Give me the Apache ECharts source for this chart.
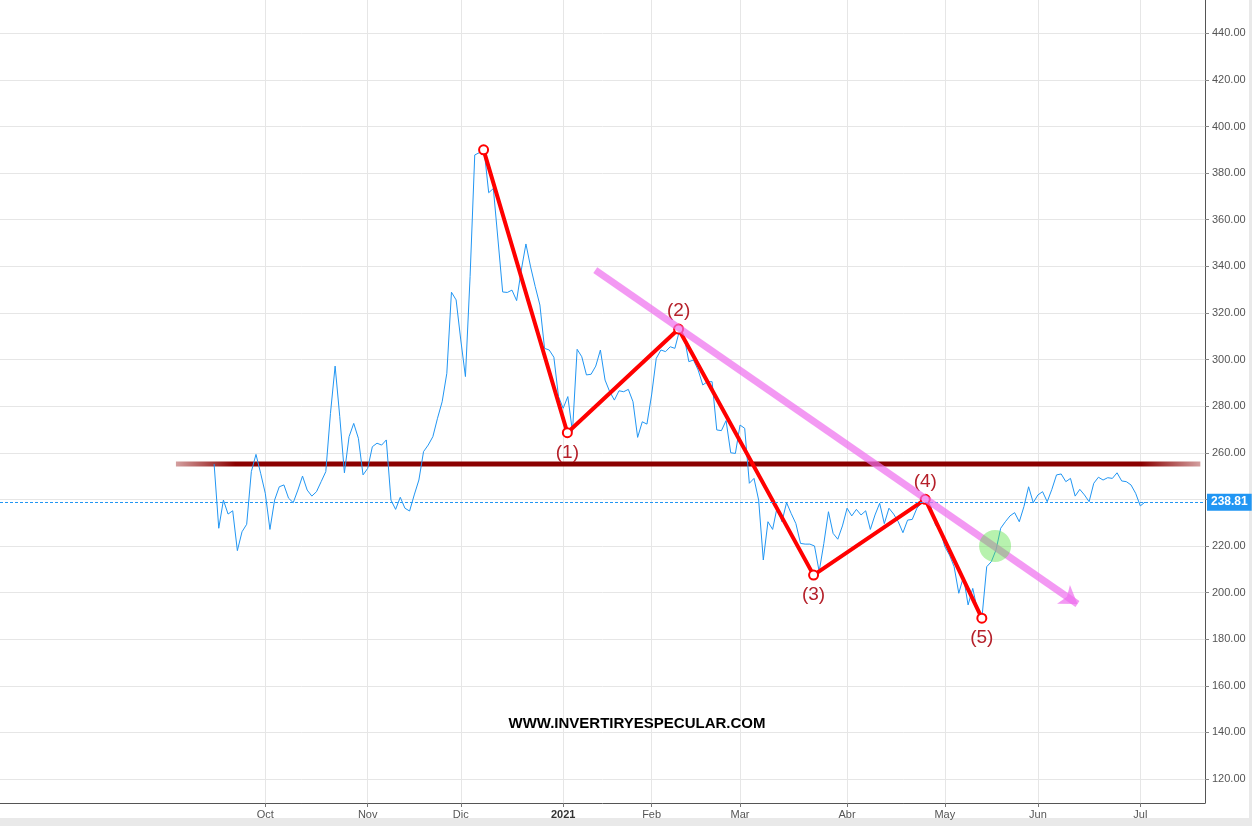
<!DOCTYPE html>
<html><head><meta charset="utf-8">
<script src="https://cdn.jsdelivr.net/npm/echarts@6/dist/echarts.min.js"></script>
<style>html,body{margin:0;padding:0;background:#fff}#c{width:1252px;height:826px}</style>
</head><body><div id="c"></div>
<script>
// Daily closes, one per trading day, starting mid-September 2020 (index 0)
const prices = [
 255.2,227.6,239.7,233.7,235.1,218.0,226.1,229.3,251.9,259.3,
 251.2,242.6,227.1,239.7,245.4,246.2,240.5,238.6,244.0,250.0,
 244.0,241.4,243.3,247.6,251.9,276.9,297.2,275.5,251.4,266.9,
 272.6,266.2,250.5,253.3,262.6,264.1,263.3,265.5,239.7,235.7,
 240.9,236.2,235.0,241.9,248.3,260.5,263.3,266.9,274.8,281.9,
 294.1,328.9,325.6,308.4,292.7,335.6,387.8,388.8,390.2,371.6,
 373.4,351.3,329.0,328.8,329.8,325.3,338.4,349.6,339.8,331.3,
 323.4,304.8,304.1,301.0,284.1,279.1,284.1,269.0,304.4,301.2,
 293.4,293.7,297.2,304.1,291.2,286.2,282.6,286.6,286.2,287.2,
 281.9,266.6,273.3,272.3,284.8,300.5,304.1,303.4,305.5,304.8,
 312.5,309.8,299.1,299.8,295.5,289.1,290.5,290.5,269.8,269.5,
 273.8,260.0,259.7,271.9,270.5,246.9,249.0,239.7,214.0,230.4,
 227.1,236.9,230.4,238.6,233.9,229.6,221.1,220.8,220.8,220.0,
 209.0,221.0,234.7,225.4,222.9,228.6,236.2,232.9,235.7,233.3,
 235.1,227.1,233.3,238.3,229.6,236.2,233.7,230.4,225.7,231.1,
 231.4,236.2,238.6,239.7,236.9,229.0,226.9,219.7,216.1,211.1,
 199.7,206.8,194.7,201.8,192.5,189.7,211.1,213.3,218.3,227.6,
 230.4,232.9,234.3,230.4,236.9,245.4,238.6,241.9,243.3,239.0,
 244.3,250.5,250.9,247.6,249.0,241.4,244.3,241.9,239.0,246.9,
 249.5,248.3,249.3,249.0,251.4,247.9,247.6,246.2,242.6,237.2,
 238.81
];
const lastPrice = 238.81;
// month starts (trading-day index) and their labels
const monthTickIdx = [11,33,53,75,94,113,136,157,177,199];
const monthLabels = ['Oct','Nov','Dic','2021','Feb','Mar','Abr','May','Jun','Jul'];
const yTicks = [120,140,160,180,200,220,240,260,280,300,320,340,360,380,400,420,440];
// Elliott-wave style pivot annotations
const waveIdx = [57.9,75.9,99.8,128.8,152.8,164.95];
const waveVal = [390.0,268.6,313.1,207.5,240.0,189.0];
const waveLabels = ['','(1)','(2)','(3)','(4)','(5)'];
const waveLabelPos = ['top','bottom','top','bottom','top','bottom'];
// down-trend line (pink arrow)
const trendStart = [81.9,338.4];
const trendEnd = [185.5,195.1];
// horizontal support / resistance
const supportLevel = 255.2;
const supportRange = [-8.2,211.9];
// breakout marker
const breakoutPoint = [167.8,220.0];
const watermark = 'WWW.INVERTIRYESPECULAR.COM';

const FONT = 'Liberation Sans, Arial, sans-serif';
const chart = echarts.init(document.getElementById('c'), null, {renderer:'canvas'});

const priceData = prices.map((v,i)=>[i,v]);
const waveData = waveIdx.map((x,i)=>({
  value:[x,waveVal[i]],
  label:{show: waveLabels[i]!=='', formatter: waveLabels[i], position: waveLabelPos[i], distance: waveLabelPos[i]==='top'?3:5}
}));
const PINK = 'rgba(238,110,238,0.7)';

chart.setOption({
  animation:false,
  backgroundColor:'#ffffff',
  grid:{left:0,right:47,top:0,bottom:23,containLabel:false},
  xAxis:{
    type:'value', min:-46, max:212.9,
    axisLine:{show:true,onZero:false,lineStyle:{color:'#555',width:1}},
    axisTick:{show:true,length:4,customValues:monthTickIdx,lineStyle:{color:'#777'}},
    axisLabel:{customValues:monthTickIdx,color:'#555',fontSize:11,fontFamily:FONT,margin:6,
      formatter:function(v){const i=monthTickIdx.indexOf(Math.round(v));const s=monthLabels[i]||'';return s==='2021'?'{b|2021}':s;},
      rich:{b:{fontWeight:'bold',fontSize:11,color:'#333',fontFamily:FONT}}},
    splitLine:{show:true,lineStyle:{color:'#e6e6e6',width:1}}
  },
  yAxis:{
    type:'value', position:'right', min:109.7, max:454.3,
    axisLine:{show:true,onZero:false,lineStyle:{color:'#555',width:1}},
    axisTick:{show:true,length:4,customValues:yTicks,lineStyle:{color:'#888'}},
    axisLabel:{customValues:yTicks,color:'#555',fontSize:11,fontFamily:FONT,margin:7,
      formatter:function(v){return v.toFixed(2);}},
    splitLine:{show:true,lineStyle:{color:'#e6e6e6',width:1}}
  },
  graphic:[
    {type:'rect',shape:{x:0,y:818,width:1252,height:8},style:{fill:'#e9e9e9'},silent:true},
    {type:'rect',shape:{x:1249,y:0,width:3,height:826},style:{fill:'#e9e9e9'},silent:true},
    {type:'text',x:637,y:724,style:{text:watermark,fill:'#000',font:'bold 15px '+FONT,textAlign:'center',textVerticalAlign:'middle'},z:10}
  ],
  series:[
    {
      name:'support', type:'line', z:2, silent:true, symbol:'none',
      data:[[supportRange[0],supportLevel],[supportRange[1],supportLevel]],
      lineStyle:{width:5,color:new echarts.graphic.LinearGradient(0,0,1,0,[
        {offset:0,color:'rgba(139,0,0,0.35)'},{offset:0.06,color:'#8b0000'},
        {offset:0.94,color:'#8b0000'},{offset:1,color:'rgba(139,0,0,0.35)'}])}
    },
    {
      name:'price', type:'line', z:3, silent:true, symbol:'none',
      data:priceData,
      lineStyle:{width:1,color:'#2196f3'},
      markLine:{
        silent:true, symbol:['none','none'],
        data:[{yAxis:lastPrice}],
        lineStyle:{type:[3,2],color:'#2196f3',width:1},
        label:{show:true,position:'end',distance:2,formatter:lastPrice.toFixed(2),
          backgroundColor:'#2196f3',color:'#fff',padding:[3,4,2,4],fontSize:12,fontWeight:'bold',fontFamily:FONT}
      }
    },
    {
      name:'waves', type:'line', z:4, silent:true,
      symbol:'emptyCircle', symbolSize:9,
      data:waveData,
      lineStyle:{width:4,color:'#ff0000'},
      itemStyle:{color:'#ff0000',borderColor:'#ff0000',borderWidth:1.5},
      label:{color:'#b5202a',fontSize:19,fontFamily:FONT}
    },
    {
      name:'trend', type:'line', z:5, silent:true, symbol:'none',
      data:[],
      itemStyle:{color:PINK},
      markLine:{
        silent:true, symbol:['none','arrow'], symbolSize:17,
        data:[[{coord:trendStart},{coord:trendEnd}]],
        lineStyle:{width:7,color:PINK,type:'solid'},
        itemStyle:{color:PINK},
        label:{show:false}
      }
    },
    {
      name:'breakout', type:'scatter', z:6, silent:true,
      symbolSize:32, data:[breakoutPoint],
      itemStyle:{color:'rgba(90,225,70,0.55)'}
    }
  ]
});
</script>
</body></html>
